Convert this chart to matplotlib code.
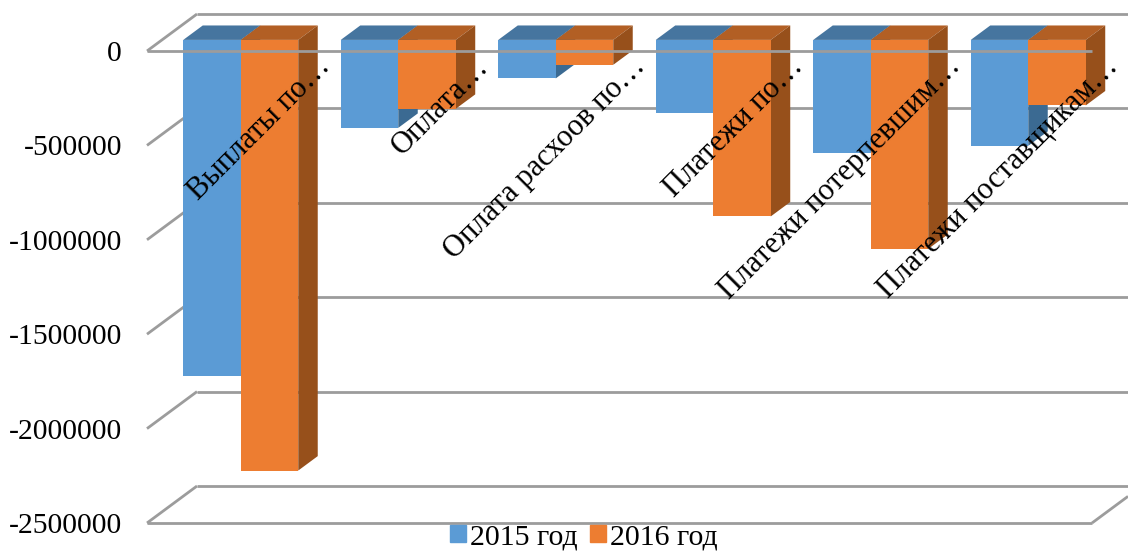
"""Cash outflows by category, 2015 vs 2016, as a 3D-style column chart."""
import numpy as np
import matplotlib
matplotlib.use("Agg")
import matplotlib.pyplot as plt
from matplotlib.patches import Patch

plt.rcParams["font.family"] = ["Liberation Serif", "DejaVu Serif"]

categories = ["Выплаты по…", "Оплата…", "Оплата расхоов по…",
              "Платежи по…", "Платежи потерпевшим…", "Платежи поставщикам…"]
values_2015 = [-1780000, -466000, -204000, -387000, -599000, -561000]
values_2016 = [-2281000, -365000, -132000, -935000, -1107000, -347000]
y_ticks = [0, -500000, -1000000, -1500000, -2000000, -2500000]
series_names = ["2015 год", "2016 год"]

W, H = 1128, 551
fig = plt.figure(figsize=(W / 100, H / 100), dpi=100)
ax = fig.add_axes([147 / W, (H - 523) / H, 945 / W, 472 / H])
ax.set_xlim(0, 6)
ax.set_ylim(-2500000, 0)
ax.axis("off")

# depth of the box, in data units
DX = 50 / 157.5
DY = 37 / 94.4 * 500000
GRID = "#9c9c9c"
BAR_W = 0.365
GAP = 0.135
D0, D1 = 0.30, 0.69
# the back wall runs off the right edge of the figure
BACK_END = (W - 147) / 157.5


def wall_line(x0, y0, x1, y1, z=1, lw=2.0):
    ax.plot([x0, x1], [y0, y1], color=GRID, lw=lw, zorder=z, clip_on=False,
            solid_capstyle="butt")


# back wall, left wall and floor
for t in y_ticks:
    wall_line(DX, t + DY, BACK_END, t + DY)
    wall_line(0, t, DX, t + DY)
wall_line(0, y_ticks[-1], 6, y_ticks[-1])
wall_line(6, y_ticks[-1], BACK_END, y_ticks[-1] + DY * (BACK_END - 6) / DX)

colours = [("#5b9bd5", "#46759f", "#3b6a92"), ("#ed7d31", "#b25f24", "#97501b")]

for i in range(len(categories)):
    z = 3 + i * 4
    for s, vals in enumerate([values_2015, values_2016]):
        front, top, side = colours[s]
        v = vals[i]
        x0 = i + GAP + s * BAR_W + D0 * DX
        x1 = x0 + BAR_W
        y0 = D0 * DY
        d = (D1 - D0)
        ax.fill([x0, x1, x1 + d * DX, x0 + d * DX],
                [y0, y0, y0 + d * DY, y0 + d * DY],
                color=top, lw=0, zorder=z + s, clip_on=False)
        ax.fill([x1, x1 + d * DX, x1 + d * DX, x1],
                [y0, y0 + d * DY, y0 + v + d * DY, y0 + v],
                color=side, lw=0, zorder=z + s, clip_on=False)
        ax.bar(x0, v, width=BAR_W, bottom=y0, align="edge", color=front,
               lw=0, zorder=z + s + 0.5, clip_on=False)

# the zero line runs in front of the columns
wall_line(0, 0, 6, 0, z=60, lw=2.0)

for t in y_ticks:
    ax.text(-25 / 157.5, t - 16000, str(t), ha="right", va="center", fontsize=21.3,
            zorder=70, clip_on=False)

for i, name in enumerate(categories):
    ax.text(i + 1.14, -60000, name, rotation=45, rotation_mode="anchor",
            ha="right", va="center", fontsize=22, zorder=70, clip_on=False)

handles = [Patch(color=colours[0][0]), Patch(color=colours[1][0])]
fig.legend(handles, series_names, ncol=2, frameon=False, fontsize=21.5,
           loc="center", bbox_to_anchor=(584 / W, (H - 537) / H),
           handlelength=0.53, handleheight=0.53, handletextpad=0.15,
           columnspacing=0.4, borderpad=0, labelspacing=0)

fig.savefig("out.png", dpi=100, facecolor="white")
